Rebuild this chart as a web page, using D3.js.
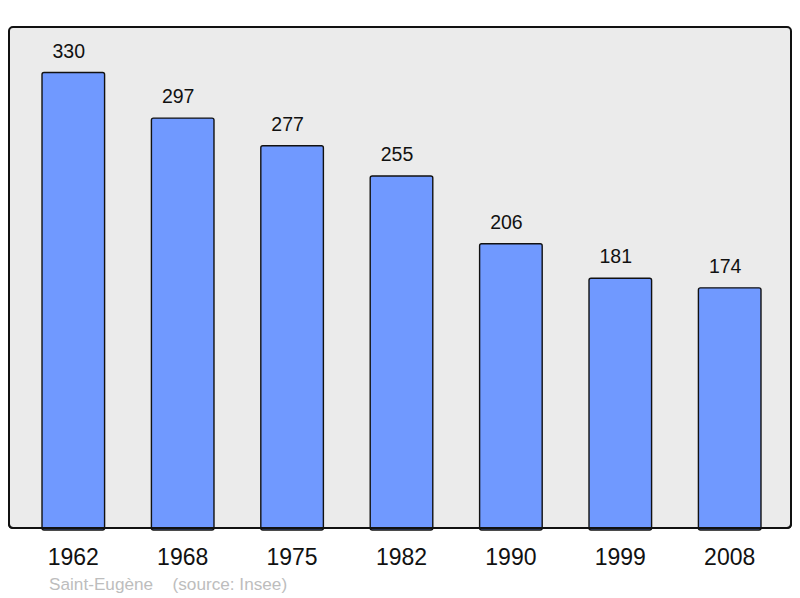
<!DOCTYPE html>
<html>
<head>
<meta charset="utf-8">
<script src="https://cdn.jsdelivr.net/npm/d3@7"></script>
<style>
  html, body { margin: 0; padding: 0; background: #ffffff; }
  svg { display: block; }
  text { font-family: "Liberation Sans", Arial, sans-serif; }
</style>
</head>
<body>
<svg id="chart" width="800" height="598"></svg>
<script>
const years = ["1962", "1968", "1975", "1982", "1990", "1999", "2008"];
const population = [330, 297, 277, 255, 206, 181, 174];
const commune = "Saint-Eugène";
const source = "(source: Insee)";

const svg = d3.select("#chart");

const panel = { left: 9, top: 27, right: 791, bottom: 528 };

svg.append("rect")
  .attr("x", panel.left)
  .attr("y", panel.top)
  .attr("width", panel.right - panel.left)
  .attr("height", panel.bottom - panel.top)
  .attr("rx", 4)
  .attr("fill", "#ebebeb")
  .attr("stroke", "#111")
  .attr("stroke-width", 2);

const x = d3.scaleBand()
  .domain(years)
  .range([18.6, 784.4])
  .paddingInner(0.428)
  .paddingOuter(0.214);

const y = d3.scaleLinear()
  .domain([0, d3.max(population) * 1.1])
  .range([panel.bottom, panel.top]);

const data = years.map((yr, i) => ({ year: yr, value: population[i] }));

svg.append("g").selectAll("rect")
  .data(data)
  .join("rect")
  .attr("x", d => x(d.year))
  .attr("y", d => y(d.value))
  .attr("width", x.bandwidth())
  .attr("height", d => y(0) - y(d.value) + 2)
  .attr("rx", 2)
  .attr("fill", "#7099ff")
  .attr("stroke", "#111")
  .attr("stroke-width", 1.4);

svg.append("path")
  .attr("d", `M${panel.left},${panel.bottom - 20} V${panel.bottom - 4} Q${panel.left},${panel.bottom} ${panel.left + 4},${panel.bottom} H${panel.right - 4} Q${panel.right},${panel.bottom} ${panel.right},${panel.bottom - 4} V${panel.bottom - 20}`)
  .attr("fill", "none").attr("stroke", "#111").attr("stroke-width", 2);

svg.append("g").selectAll("text")
  .data(data)
  .join("text")
  .attr("x", d => x(d.year) + x.bandwidth() / 2 - 4.5)
  .attr("y", d => y(d.value) - 15)
  .attr("text-anchor", "middle")
  .attr("font-size", 19.5)
  .attr("fill", "#111")
  .text(d => d.value);

svg.append("g").selectAll("text")
  .data(years)
  .join("text")
  .attr("x", d => x(d) + x.bandwidth() / 2)
  .attr("y", 565)
  .attr("text-anchor", "middle")
  .attr("font-size", 23)
  .attr("fill", "#111")
  .text(d => d);

svg.append("text")
  .attr("x", 49).attr("y", 590)
  .attr("font-size", 17.2)
  .attr("fill", "#bdbdbd")
  .text(commune);
svg.append("text")
  .attr("x", 172.5).attr("y", 590)
  .attr("font-size", 17.2)
  .attr("fill", "#bdbdbd")
  .text(source);
</script>
</body>
</html>
